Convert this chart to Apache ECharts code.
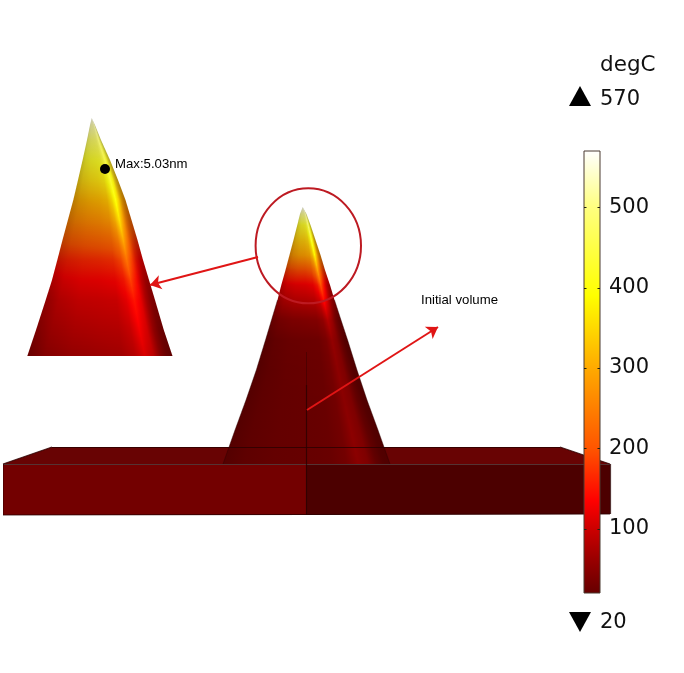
<!DOCTYPE html>
<html><head><meta charset="utf-8">
<style>html,body{margin:0;padding:0;background:#fff}#c{width:684px;height:673px}</style>
<script src="https://cdn.jsdelivr.net/npm/echarts@6/dist/echarts.min.js"></script>
</head><body><div id="c"></div>
<script>
// Colour scale
const rampTemps   = [20, 60, 100, 135, 200, 300, 390, 500, 570];
const rampColours = ['#660000','#960000','#cc0000','#ff0000','#ff5500','#ffaa00','#ffff00','#ffff80','#ffffff'];
const colorbarTicks = [100, 200, 300, 400, 500];
const colorbarMax = 570, colorbarMin = 20;
const unitLabel = 'degC';

// Surface columns (fraction across the cone) and light on each column
const coneU     = [0, .12, .3, .5, .65, .74, .81, .87, .92, .96, 1];
const coneShade = [.72, .8, .84, .86, .88, .93, 1, .96, .82, .72, .68];

// Inset cone
const insetY     = [356, 330, 300, 280, 260, 240, 220, 200, 180, 160, 140, 125, 118];
const insetLeft  = [27.3, 36, 45.7, 52, 57.3, 62.5, 67.9, 73.3, 78, 82.6, 87, 90, 91.7];
const insetRight = [172.5, 163.8, 155, 149, 143, 137.5, 131.5, 125.5, 118, 110, 101, 95, 91.7];
const insetGloss = [0, 0, 0, 0, 0, 0, 0, 0, .08, .18, .35, .6, .85];
const insetTemps = [
  [ 55, 70, 78, 82, 84, 92,108, 92, 65, 55, 50],
  [ 75, 88, 95, 98, 98,106,128,108, 78, 66, 60],
  [ 95,108,115,115,115,128,150,125, 98, 85, 80],
  [120,130,135,135,138,152,185,145,115,105,100],
  [155,160,165,168,172,190,235,185,150,135,130],
  [205,210,215,220,225,250,300,235,195,180,170],
  [255,260,265,270,280,310,360,290,250,235,225],
  [300,305,310,315,325,360,400,345,305,290,280],
  [345,350,355,360,370,395,420,385,350,335,325],
  [380,385,390,392,398,415,435,405,378,365,360],
  [420,420,425,425,430,440,455,435,420,410,400],
  [470,470,470,470,470,480,490,470,460,450,450],
  [530,530,530,530,530,530,530,530,530,530,530]
];

// Main cone
const mainY     = [464, 430, 400, 370, 340, 320, 300, 285, 270, 255, 240, 225, 214, 207];
const mainLeft  = [223, 235, 246, 256.3, 265.5, 271.5, 277.5, 281.3, 285.5, 289.5, 293.5, 297.3, 300, 302.7];
const mainRight = [390, 378, 367, 357, 347.6, 341, 334.5, 330, 325, 320.5, 315.5, 310.5, 306.5, 302.7];
const mainGloss = [0, 0, 0, 0, 0, 0, 0, 0, 0, 0, .05, .18, .5, .85];
const mainTemps = [
  [ 32, 33, 34, 34, 34, 38, 50, 44, 34, 32, 32],
  [ 32, 33, 34, 34, 34, 38, 52, 44, 34, 32, 32],
  [ 32, 33, 34, 34, 34, 38, 50, 44, 34, 32, 32],
  [ 32, 33, 35, 35, 35, 40, 52, 45, 35, 33, 32],
  [ 34, 36, 38, 38, 38, 44, 58, 48, 38, 34, 33],
  [ 50, 54, 57, 58, 58, 64, 82, 66, 52, 48, 46],
  [ 88, 96,100,100,102,112,145,112, 92, 84, 80],
  [122,128,130,130,135,155,200,150,125,115,110],
  [180,188,195,195,205,235,290,225,195,180,175],
  [275,282,290,290,298,330,385,320,285,275,270],
  [325,330,335,335,345,375,430,385,345,335,330],
  [375,378,385,385,395,425,470,425,395,385,380],
  [440,440,450,450,460,475,495,475,455,445,445],
  [530,530,530,530,530,530,530,530,530,530,530]
];

// Substrate faces
const slabTop        = [[3,464],[52,447],[560,447],[610,464]];
const slabFrontLeft  = [[3,465],[306,465],[306,515],[3,515]];
const slabFrontRight = [[306,465],[610,465],[610,514],[306,515]];
const slabColours = ['#680303', '#730000', '#4c0000'];
const edgeLines = [
  [[3,464],[610,464]], [[3,515],[610,514]], [[3,464],[52,447]], [[52,447],[560,447]],
  [[560,447],[610,464]], [[610,464],[610,514]], [[306,465],[306,515]], [[306,385],[306,465]]
];
const faintEdges = [[[306,352],[306,385]], [[3,464],[3,515]]];
const coneEdgeRows = 6;

// Annotations
const callouts = [
  {from:[258,257], to:[150,285]},
  {from:[307,410], to:[438,327]}
];
const ring = {centre:[308.3,245.8], rx:52.7, ry:57.5};
const maxPoint = [[105,169]];
const annotations = [
  {text:'Max:5.03nm', at:[115,164], size:13.2, family:'Liberation Sans', color:'#000'},
  {text:'Initial volume', at:[421,300], size:13.2, family:'Liberation Sans', color:'#000'},
  {text:unitLabel, at:[600,65], size:21.5, family:'DejaVu Sans', color:'#111'},
  {text:'570', at:[600,100], size:21, family:'DejaVu Sans', color:'#111'},
  {text:'20', at:[600,623], size:21, family:'DejaVu Sans', color:'#111'}
];
const limitMarks = [{at:[580,96], rot:0},{at:[580,622], rot:180}];

function hex(c){return [1,3,5].map(i=>parseInt(c.substr(i,2),16));}
function rampColour(t){
  t = Math.max(rampTemps[0], Math.min(rampTemps[rampTemps.length-1], t));
  let i = 0; while(i < rampTemps.length-2 && t > rampTemps[i+1]) i++;
  const f = (t-rampTemps[i])/(rampTemps[i+1]-rampTemps[i]);
  const a = hex(rampColours[i]), b = hex(rampColours[i+1]);
  return a.map((v,k)=>v+(b[k]-v)*f);
}
function lerp(a,b,f){return a+(b-a)*f;}

// Each pixel row of a cone is one band, shaded across by a horizontal gradient.
function coneSeries(yRows,lefts,rights,temps,gloss){
  const sampleAt=y=>{
    let r=0; while(r<yRows.length-2 && y<yRows[r+1]) r++;
    const f=(yRows[r]-y)/(yRows[r]-yRows[r+1]);
    return {l:lerp(lefts[r],lefts[r+1],f),R:lerp(rights[r],rights[r+1],f),r,f};
  };
  const yTop=Math.floor(yRows[yRows.length-1]), yBottom=yRows[0];
  return {
    type:'custom',coordinateSystem:'cartesian2d',xAxisIndex:0,yAxisIndex:0,silent:true,
    animation:false,clip:false,data:[0],z:3,
    renderItem(p,api){
      const kids=[];
      for(let y=yTop;y<yBottom;y++){
        const a=sampleAt(y),b=sampleAt(y+1),m=sampleAt(y+.5);
        const P=[api.coord([a.l,y]),api.coord([a.R,y]),api.coord([b.R,y+1]),api.coord([b.l,y+1])];
        const g=lerp(gloss[m.r],gloss[m.r+1],m.f);
        const cs=[];
        for(let c=0;c<coneU.length-1;c++){
          const n=c===coneU.length-2?3:2;
          for(let k=0;k<=n;k++){
            if(k===n&&c<coneU.length-2)continue;
            const fc=k/n;
            const t=lerp(lerp(temps[m.r][c],temps[m.r][c+1],fc),lerp(temps[m.r+1][c],temps[m.r+1][c+1],fc),m.f);
            const s=lerp(coneShade[c],coneShade[c+1],fc);
            const rgb=rampColour(t).map(v=>v*s);
            const o=[200,200,185].map((v,i)=>Math.round(lerp(rgb[i],v,g)));
            cs.push({offset:lerp(coneU[c],coneU[c+1],fc),color:`rgb(${o[0]},${o[1]},${o[2]})`});
          }
        }
        const x0=api.coord([m.l,y])[0],x1=api.coord([m.R,y])[0];
        const span=Math.max(x1-x0,0.01);
        kids.push({type:'polygon',shape:{points:P},
          style:{fill:new echarts.graphic.LinearGradient(x0,0,x0+span,0,cs,true)}});
      }
      return {type:'group',children:kids};
    }
  };
}
function faceSeries(pts,colour,z){
  return {type:'custom',coordinateSystem:'cartesian2d',xAxisIndex:0,yAxisIndex:0,silent:true,animation:false,z,
    data:[0],clip:false,
    renderItem(p,api){return {type:'polygon',shape:{points:pts.map(q=>api.coord(q))},style:{fill:colour}};}};
}
const stops = rampTemps.map((t,i)=>({offset:1-(t-colorbarMin)/(colorbarMax-colorbarMin),color:rampColours[i]})).reverse();
const coneEdges=[];
for(let r=0;r<coneEdgeRows;r++){
  coneEdges.push([[mainLeft[r],mainY[r]],[mainLeft[r+1],mainY[r+1]]]);
  coneEdges.push([[mainRight[r],mainY[r]],[mainRight[r+1],mainY[r+1]]]);
}

const option = {
  animation:false,backgroundColor:'#fff',
  grid:[
    {left:0,right:0,top:0,bottom:0},
    {left:584,top:151,width:16,height:442,show:false}
  ],
  xAxis:[
    {type:'value',min:0,max:684,show:false,gridIndex:0},
    {type:'value',min:0,max:1,gridIndex:1,show:false}
  ],
  yAxis:[
    {type:'value',min:0,max:673,inverse:true,show:false,gridIndex:0},
    {type:'value',min:colorbarMin,max:colorbarMax,gridIndex:1,position:'right',z:12,
      axisLine:{show:false},axisTick:{show:false},
      axisLabel:{show:true,customValues:colorbarTicks,margin:9,padding:[4,0,0,0],fontFamily:'DejaVu Sans',fontSize:21,color:'#111'},
      splitLine:{show:false}}
  ],
  series:[
    faceSeries(slabTop,slabColours[0],1),
    faceSeries(slabFrontLeft,slabColours[1],1),
    faceSeries(slabFrontRight,slabColours[2],1),
    coneSeries(mainY,mainLeft,mainRight,mainTemps,mainGloss),
    coneSeries(insetY,insetLeft,insetRight,insetTemps,insetGloss),
    {type:'lines',coordinateSystem:'cartesian2d',xAxisIndex:0,yAxisIndex:0,silent:true,z:4,
      data:edgeLines.map(e=>({coords:e})),lineStyle:{color:'#2a0000',width:1.2,opacity:.8}},
    {type:'lines',coordinateSystem:'cartesian2d',xAxisIndex:0,yAxisIndex:0,silent:true,z:4,
      data:faintEdges.concat(coneEdges).map(e=>({coords:e})),lineStyle:{color:'#2a0000',width:1,opacity:.4}},
    {type:'custom',coordinateSystem:'cartesian2d',xAxisIndex:0,yAxisIndex:0,silent:true,animation:false,z:5,clip:false,data:[0],
      renderItem(p,api){const c=api.coord(ring.centre);
        return {type:'ellipse',shape:{cx:c[0],cy:c[1],rx:ring.rx,ry:ring.ry},style:{fill:'none',stroke:'#bd1a22',lineWidth:2}};}},
    {type:'lines',coordinateSystem:'cartesian2d',xAxisIndex:0,yAxisIndex:0,silent:true,z:6,
      data:callouts.map(c=>({coords:[c.from,c.to]})),
      symbol:['none','arrow'],symbolSize:11,lineStyle:{color:'#e01515',width:2,opacity:1,curveness:0}},
    {type:'scatter',coordinateSystem:'cartesian2d',xAxisIndex:0,yAxisIndex:0,silent:true,z:7,
      data:maxPoint,symbol:'circle',symbolSize:10,itemStyle:{color:'#000',opacity:1}},
    {type:'scatter',coordinateSystem:'cartesian2d',xAxisIndex:0,yAxisIndex:0,silent:true,z:7,
      data:limitMarks.map(m=>({value:m.at,symbolRotate:m.rot})),symbol:'triangle',symbolSize:[22,20],itemStyle:{color:'#000',opacity:1}},
    {type:'custom',coordinateSystem:'cartesian2d',xAxisIndex:0,yAxisIndex:0,silent:true,animation:false,z:8,clip:false,
      data:annotations.map((a,i)=>i),
      renderItem(p,api){const a=annotations[api.value(0)],c=api.coord(a.at);
        return {type:'text',style:{text:a.text,x:c[0],y:c[1],font:`${a.size}px "${a.family}"`,fill:a.color,textVerticalAlign:'middle',textAlign:'left'}};}},
    {type:'custom',coordinateSystem:'cartesian2d',xAxisIndex:1,yAxisIndex:1,silent:true,animation:false,z:9,clip:false,
      data:[[0,colorbarMin]],encode:{x:0,y:1},
      renderItem(p,api){
        const a=api.coord([0,colorbarMax]),b=api.coord([1,colorbarMin]);
        return {type:'rect',shape:{x:a[0],y:a[1],width:b[0]-a[0],height:b[1]-a[1]},
          style:{fill:new echarts.graphic.LinearGradient(0,0,0,1,stops),stroke:'#4a3a30',lineWidth:1}};}},
    {type:'custom',coordinateSystem:'cartesian2d',xAxisIndex:1,yAxisIndex:1,silent:true,animation:false,z:10,clip:false,
      data:colorbarTicks.map(v=>[0,v]),encode:{x:0,y:1},
      renderItem(p,api){
        const v=api.value(1),L=api.coord([0,v]),R=api.coord([1,v]);
        const y=Math.round(L[1])+.5;
        const seg=(x1,x2)=>({type:'line',shape:{x1,y1:y,x2,y2:y},style:{stroke:'#221',lineWidth:1}});
        return {type:'group',children:[seg(L[0],L[0]+2.5),seg(R[0]-2.5,R[0])]};}}
  ]
};
echarts.init(document.getElementById('c'),null,{renderer:'canvas'}).setOption(option);
</script></body></html>
